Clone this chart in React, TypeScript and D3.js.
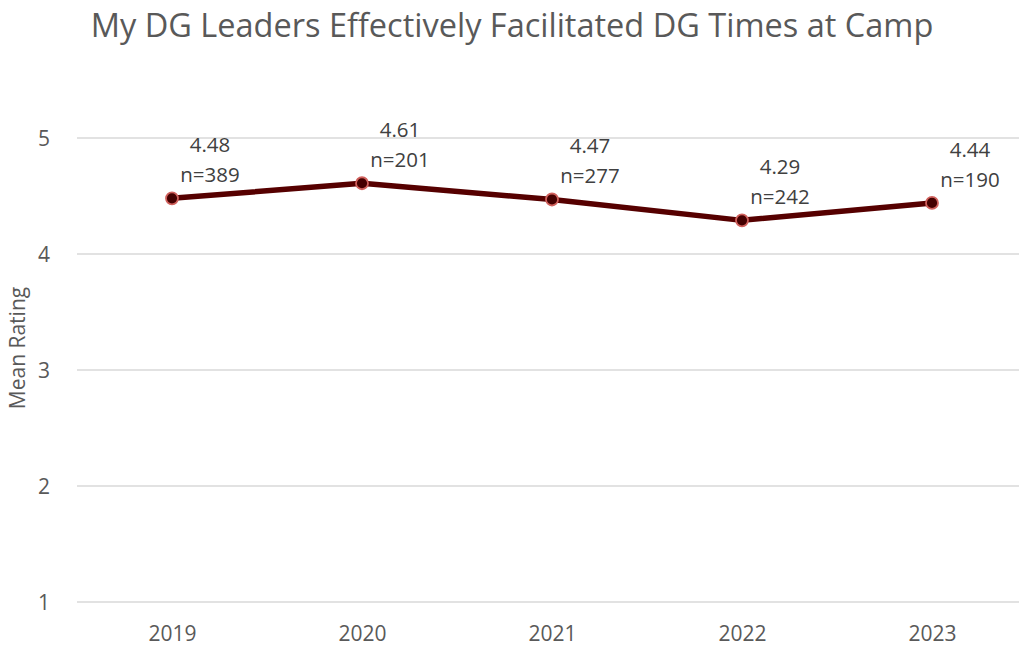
import React, { useEffect, useRef } from "react";
import * as d3 from "d3";

// chart data
const years = ["2019", "2020", "2021", "2022", "2023"];
const meanRatings = [4.48, 4.61, 4.47, 4.29, 4.44];
const sampleSizes = [389, 201, 277, 242, 190];
const yTicks = [1, 2, 3, 4, 5];

const W = 1019;
const H = 646;
const FONT = "'Open Sans', 'Noto Sans', sans-serif";

const App = () => {
  const ref = useRef<SVGSVGElement | null>(null);

  useEffect(() => {
    const svg = d3.select(ref.current);
    svg.selectAll("*").remove();

    const margin = { top: 138, right: -8, bottom: 44, left: 77 };

    const x = d3
      .scalePoint()
      .domain(years)
      .range([margin.left, W - margin.right])
      .padding(0.5);

    const y = d3
      .scaleLinear()
      .domain([1, 5])
      .range([H - margin.bottom, margin.top]);

    // title
    svg
      .append("text")
      .attr("x", 512)
      .attr("y", 37)
      .attr("text-anchor", "middle")
      .attr("font-family", FONT)
      .attr("font-size", 32.5)
      .attr("fill", "#595959")
      .text("My DG Leaders Effectively Facilitated DG Times at Camp");

    // gridlines
    svg
      .append("g")
      .selectAll("line")
      .data(yTicks)
      .enter()
      .append("line")
      .attr("x1", margin.left)
      .attr("x2", W - margin.right)
      .attr("y1", (d) => y(d))
      .attr("y2", (d) => y(d))
      .attr("stroke", "#d9d9d9")
      .attr("stroke-width", 1.5);

    // y axis
    const yAxis = svg
      .append("g")
      .attr("transform", `translate(${margin.left - 24},0)`)
      .call(d3.axisLeft(y).tickValues(yTicks).tickSize(0).tickFormat(d3.format("d")));
    yAxis.select(".domain").remove();
    yAxis
      .selectAll("text")
      .attr("font-family", FONT)
      .attr("font-size", 21)
      .attr("fill", "#595959")
      .attr("dy", "0.35em");

    // x axis
    const xAxis = svg
      .append("g")
      .attr("transform", `translate(0,${H - margin.bottom})`)
      .call(d3.axisBottom(x).tickSize(0));
    xAxis.select(".domain").remove();
    xAxis
      .selectAll("text")
      .attr("font-family", FONT)
      .attr("font-size", 21)
      .attr("fill", "#595959")
      .attr("dy", "1.7em");

    // y axis title
    svg
      .append("text")
      .attr("transform", `translate(25,348) rotate(-90)`)
      .attr("text-anchor", "middle")
      .attr("font-family", FONT)
      .attr("font-size", 21)
      .attr("fill", "#595959")
      .text("Mean Rating");

    const pts = years.map((yr, i) => ({ yr, v: meanRatings[i], n: sampleSizes[i] }));

    // line
    const line = d3
      .line<{ yr: string; v: number }>()
      .x((d) => x(d.yr) as number)
      .y((d) => y(d.v));

    svg
      .append("path")
      .datum(pts)
      .attr("d", line)
      .attr("fill", "none")
      .attr("stroke", "#560000")
      .attr("stroke-width", 5.5)
      .attr("stroke-linejoin", "round");

    // markers
    svg
      .append("g")
      .selectAll("circle")
      .data(pts)
      .enter()
      .append("circle")
      .attr("cx", (d) => x(d.yr) as number)
      .attr("cy", (d) => y(d.v))
      .attr("r", 6)
      .attr("fill", "#450000")
      .attr("stroke", "#d0605c")
      .attr("stroke-width", 1.8);

    // data labels
    const labels = svg
      .append("g")
      .selectAll("text")
      .data(pts)
      .enter()
      .append("text")
      .attr("text-anchor", "middle")
      .attr("font-family", FONT)
      .attr("font-size", 20.5)
      .attr("fill", "#404040");

    labels
      .append("tspan")
      .attr("x", (d) => (x(d.yr) as number) + 38)
      .attr("y", (d) => y(d.v) - 46)
      .text((d) => d.v.toFixed(2));

    labels
      .append("tspan")
      .attr("x", (d) => (x(d.yr) as number) + 38)
      .attr("y", (d) => y(d.v) - 16)
      .text((d) => `n=${d.n}`);
  }, []);

  return (
    <svg
      ref={ref}
      width={W}
      height={H}
      style={{ position: "absolute", left: 0, top: 0, background: "#fff" }}
    />
  );
};

export default App;
